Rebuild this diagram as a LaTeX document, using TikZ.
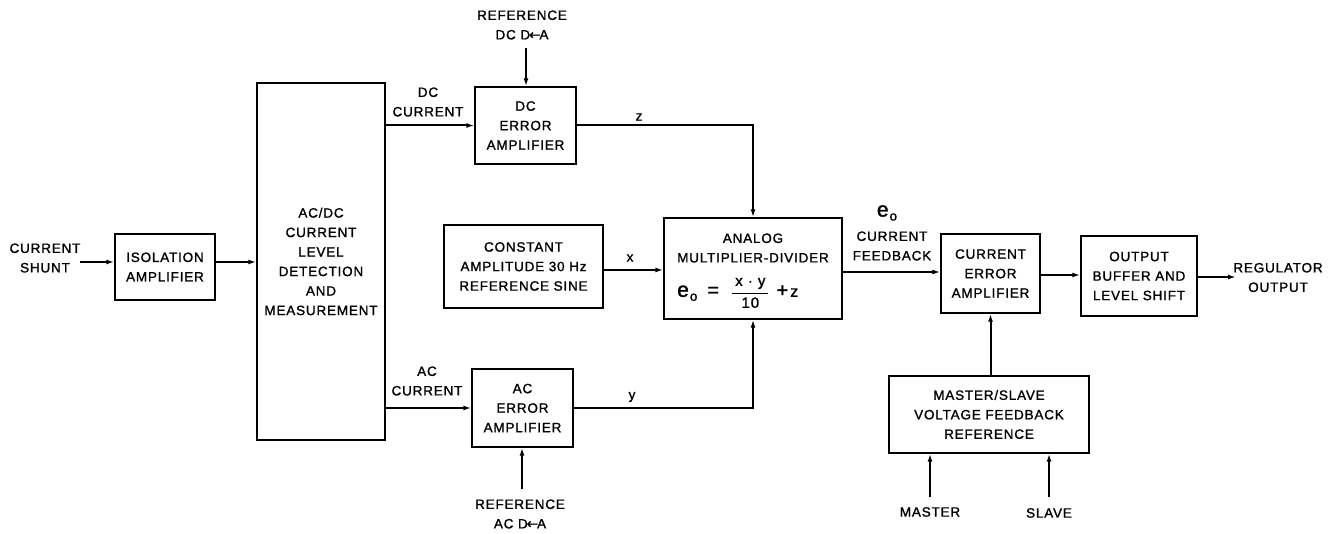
\documentclass[tikz,border=0pt]{standalone}
\usepackage{amsmath}
\usepackage{fontspec}
\setmainfont{Liberation Sans}[LetterSpace=6,FakeBold=1.3]
\usetikzlibrary{arrows.meta}
\newcommand{\DtoA}{D\kern-1pt{\fontspec{DejaVu Sans}[FakeBold=1.5]\char"2190}\kern-1pt A}
\newcommand{\bige}{{\fontsize{21}{21}\selectfont e}\kern1pt\raisebox{-4pt}{o}}
\newcommand{\fracsz}{\fontsize{15}{15}\selectfont}
\begin{document}
\begin{tikzpicture}[x=1pt,y=-1pt,
  every node/.style={font=\fontsize{13.5}{19.5}\selectfont, inner sep=0pt},
  blk/.style={draw, line width=1.4pt, align=center},
  lbl/.style={align=center},
  conn/.style={line width=2pt, -{Latex[length=8pt,width=5pt]}},
  wire/.style={line width=2pt}]
\useasboundingbox (0,0) rectangle (1340,534);

% blocks
\node[blk, minimum width=100, minimum height=66] (iso) at (165,267) {ISOLATION\\AMPLIFIER};
\node[blk, minimum width=128, minimum height=357] (acdc) at (321,261.5) {AC/DC\\CURRENT\\LEVEL\\DETECTION\\AND\\MEASUREMENT};
\node[blk, minimum width=101, minimum height=77] (dcerr) at (525.5,125.5) {DC\\ERROR\\AMPLIFIER};
\node[blk, minimum width=101, minimum height=78] (acerr) at (522.5,408) {AC\\ERROR\\AMPLIFIER};
\node[blk, minimum width=159, minimum height=83] (const) at (523.5,266.5) {CONSTANT\\AMPLITUDE 30 Hz\\REFERENCE SINE};
\node[blk, minimum width=178, minimum height=101] (mult) at (753,268.5) {};
\node[lbl] (multtxt) at (753,248) {ANALOG\\MULTIPLIER-DIVIDER};
\node[lbl, anchor=west] (formula) at (677,293) {\bige\hspace{10pt}{\fontsize{20}{20}\selectfont =}\hspace{12pt}$\genfrac{}{}{1.2pt}{0}{\mbox{\fracsz\hspace{3pt}x · y\hspace{3pt}}}{\mbox{\fracsz 10}}$\hspace{7pt}{\fontsize{20}{20}\selectfont +}\hspace{2pt}{\fontsize{16}{16}\selectfont z}};
\node[blk, minimum width=99, minimum height=79] (curerr) at (990.5,273.5) {CURRENT\\ERROR\\AMPLIFIER};
\node[blk, minimum width=116, minimum height=80] (outbuf) at (1139,276) {OUTPUT\\BUFFER AND\\LEVEL SHIFT};
\node[blk, minimum width=200, minimum height=77] (ms) at (989,414.5) {MASTER/SLAVE\\VOLTAGE FEEDBACK\\REFERENCE};

% labels
\node[lbl] (shunt) at (45,258) {CURRENT\\SHUNT};
\node[lbl] (refdc) at (522,25) {REFERENCE\\DC \DtoA};
\node[lbl] (refac) at (520,514) {REFERENCE\\AC \DtoA};
\node[lbl] (dccur) at (428,102) {DC\\CURRENT};
\node[lbl] (accur) at (427,381) {AC\\CURRENT};
\node[lbl] (zl) at (639,117) {z};
\node[lbl] (xl) at (630,258) {x};
\node[lbl] (yl) at (632,397) {y};
\node[lbl] (eo) at (887,213) {\bige};
\node[lbl] (cfb) at (892,246) {CURRENT\\FEEDBACK};
\node[lbl] (regout) at (1278,277.5) {REGULATOR\\OUTPUT};
\node[lbl] (master) at (930,512) {MASTER};
\node[lbl] (slave) at (1049,513) {SLAVE};

% free ends
\coordinate (shuntend) at (80,262);
\coordinate (refdcend) at (526,48);
\coordinate (refacend) at (522,489);
\coordinate (regend) at (1236,277);
\coordinate (mastend) at (930,497);
\coordinate (slaveend) at (1049,497);

% connectors
\draw[conn] (shuntend) -- (shuntend -| iso.west);
\draw[conn] (iso.east |- 0,262) -- (acdc.west |- 0,262);
\draw[conn] (acdc.east |- dcerr.west) -- (dcerr.west);
\draw[conn] (acdc.east |- acerr.west) -- (acerr.west);
\draw[conn] (refdcend) -- (refdcend |- dcerr.north);
\draw[conn] (refacend) -- (refacend |- acerr.south);
\draw[conn] (dcerr.east) -| (mult.north);
\draw[conn] (acerr.east) -| (mult.south);
\draw[conn] (const.east |- 0,270) -- (mult.west |- 0,270);
\draw[conn] (mult.east |- 0,272) -- (curerr.west |- 0,272);
\draw[conn] (curerr.east |- 0,275) -- (outbuf.west |- 0,275);
\draw[conn] (outbuf.east |- regend) -- (regend);
\draw[conn] (curerr.south |- ms.north) -- (curerr.south);
\draw[conn] (mastend) -- (mastend |- ms.south);
\draw[conn] (slaveend) -- (slaveend |- ms.south);
\end{tikzpicture}
\end{document}
